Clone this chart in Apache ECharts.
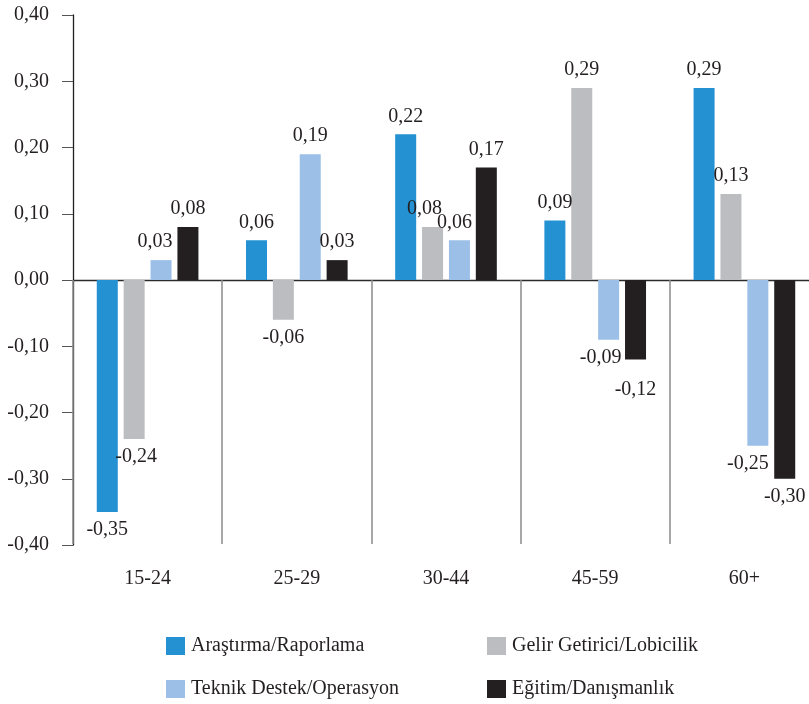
<!DOCTYPE html>
<html>
<head>
<meta charset="utf-8">
<script src="https://cdn.jsdelivr.net/npm/echarts@6/dist/echarts.min.js"></script>
<style>
html,body{margin:0;padding:0;background:#fff;}
#chart{width:809px;height:704px;}
</style>
</head>
<body>
<div id="chart"></div>
<script>
const categories = ['15-24', '25-29', '30-44', '45-59', '60+'];
const seriesNames = ['Araştırma/Raporlama', 'Gelir Getirici/Lobicilik', 'Teknik Destek/Operasyon', 'Eğitim/Danışmanlık'];
const arastirma = [-0.35, 0.06, 0.22, 0.09, 0.29];
const gelir = [-0.24, -0.06, 0.08, 0.29, 0.13];
const teknik = [0.03, 0.19, 0.06, -0.09, -0.25];
const egitim = [0.08, 0.03, 0.17, -0.12, -0.30];
const yTicks = [-0.4, -0.3, -0.2, -0.1, 0, 0.1, 0.2, 0.3, 0.4];

const colors = ['#2391d2', '#bcbdc1', '#9bbfe6', '#231f20'];
const allValues = [arastirma, gelir, teknik, egitim];
const FONT = '"Liberation Serif", "Times New Roman", serif';
const TEXT = '#231f20';

// label nudges (style only): [seriesIndex, categoryIndex] -> [dx, dy]
const nudges = {
  '1-0': [2, 0], '1-2': [-8, 0], '2-0': [-6, 0], '2-2': [-5, 0],
  '2-3': [-8, 0], '3-3': [0, 12], '2-4': [-10, 0]
};

const fmt = v => (v < 0 ? '-' : '') + Math.abs(v).toFixed(2).replace('.', ',');

const series = allValues.map((vals, si) => ({
  name: seriesNames[si],
  type: 'bar',
  barWidth: 21,
  barGap: '28%',
  itemStyle: { color: colors[si] },
  data: vals.map((v, ci) => {
    const d = { value: v, label: { position: v >= 0 ? 'top' : 'bottom' } };
    const n = nudges[si + '-' + ci];
    if (n) d.label.offset = n;
    return d;
  }),
  label: {
    show: true,
    distance: 8,
    fontFamily: FONT,
    fontSize: 20,
    color: TEXT,
    formatter: p => fmt(p.value)
  }
}));

const chart = echarts.init(document.getElementById('chart'));
chart.setOption({
  animation: false,
  backgroundColor: '#fff',
  grid: { left: 73, right: -10, top: 15, bottom: 159, containLabel: false, outerBoundsMode: 'none' },
  legend: [
    {
      data: [seriesNames[0], seriesNames[2]],
      orient: 'vertical', left: 166, top: 636,
      itemWidth: 19, itemHeight: 18, itemGap: 23,
      icon: 'rect',
      textStyle: { fontFamily: FONT, fontSize: 20, color: TEXT, padding: [0, 0, 0, 1] },
      padding: 0
    },
    {
      data: [seriesNames[1], seriesNames[3]],
      orient: 'vertical', left: 487, top: 636,
      itemWidth: 19, itemHeight: 18, itemGap: 23,
      icon: 'rect',
      textStyle: { fontFamily: FONT, fontSize: 20, color: TEXT, padding: [0, 0, 0, 1] },
      padding: 0
    }
  ],
  xAxis: {
    type: 'category',
    data: categories,
    boundaryGap: true,
    axisLine: { onZero: true, lineStyle: { color: '#2b2b2b', width: 1.3 } },
    axisTick: { show: true, length: 264, lineStyle: { color: '#8a8a8a', width: 1.5 } },
    axisLabel: { margin: 24, fontFamily: FONT, fontSize: 20, color: TEXT },
    splitLine: { show: false }
  },
  yAxis: {
    type: 'value',
    min: yTicks[0], max: yTicks[yTicks.length - 1], interval: 0.1,
    axisLine: { show: true, lineStyle: { color: '#231f20', width: 1.3 } },
    axisTick: { show: true, length: 11, lineStyle: { color: '#555', width: 1 } },
    axisLabel: { margin: 24, fontFamily: FONT, fontSize: 20, color: TEXT, formatter: v => fmt(Math.round(v * 100) / 100) },
    splitLine: { show: false }
  },
  series: series
});
</script>
</body>
</html>
